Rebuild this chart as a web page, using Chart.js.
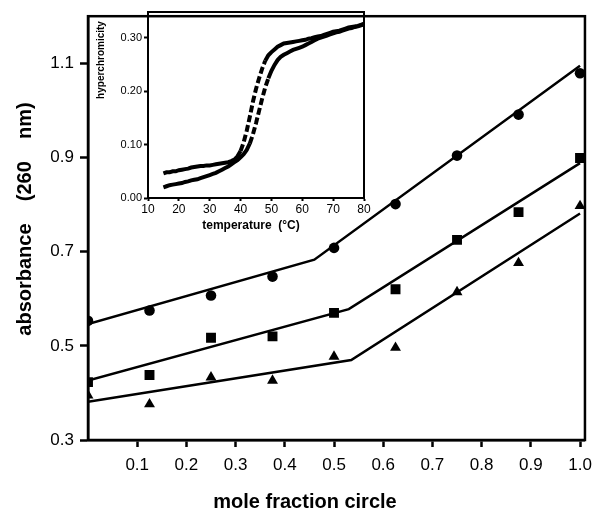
<!DOCTYPE html>
<html>
<head>
<meta charset="utf-8">
<script src="https://cdn.jsdelivr.net/npm/chart.js@4"></script>
<style>
  body { margin: 0; background: #fff; }
  #wrap { position: relative; width: 600px; height: 519px; }
  #mainChart { position: absolute; left: 0; top: 0; }
  #insetChart { position: absolute; left: 90px; top: 0; }
</style>
</head>
<body>
<div id="wrap">
  <canvas id="mainChart" width="600" height="519"></canvas>
  <canvas id="insetChart" width="290" height="240"></canvas>
</div>
<script>
// main plot: absorbance vs mole fraction
const moleFraction = [0, 0.125, 0.25, 0.375, 0.5, 0.625, 0.75, 0.875, 1.0];
const circleAbs   = [0.553, 0.575, 0.607, 0.647, 0.708, 0.801, 0.904, 0.991, 1.079];
const squareAbs   = [0.423, 0.438, 0.517, 0.520, 0.570, 0.620, 0.725, 0.784, 0.899];
const triangleAbs = [0.395, 0.376, 0.433, 0.426, 0.477, 0.496, 0.614, 0.676, 0.797];

// two-segment fit lines: start, break, end
const circleFitX   = [0, 0.46, 1.0];
const circleFitY   = [0.546, 0.683, 1.095];
const squareFitX   = [0, 0.53, 1.0];
const squareFitY   = [0.426, 0.578, 0.888];
const triangleFitX = [0, 0.535, 1.0];
const triangleFitY = [0.381, 0.470, 0.781];

const xTicks = [0.1, 0.2, 0.3, 0.4, 0.5, 0.6, 0.7, 0.8, 0.9, 1.0];
const yTicks = [0.3, 0.5, 0.7, 0.9, 1.1];

// inset: melting curves (hyperchromicity vs temperature)
const temperature = [15, 16, 17, 18, 19, 20, 21, 22, 23, 24, 25, 26, 27, 28, 29, 30, 31, 32, 33, 34,
  35, 36, 37, 38, 39, 40, 41, 42, 43, 44, 45, 46, 47, 48, 49, 50, 51, 52, 53, 54, 55, 56, 57, 58,
  59, 60, 61, 62, 63, 64, 65, 66, 67, 68, 69, 70, 71, 72, 73, 74, 75, 76, 77, 78, 79, 80];
const meltA = [0.046, 0.048, 0.048, 0.050, 0.050, 0.052, 0.053, 0.054, 0.055, 0.057, 0.058, 0.059,
  0.060, 0.060, 0.061, 0.061, 0.062, 0.063, 0.064, 0.065, 0.066, 0.067, 0.069, 0.072, 0.078, 0.088,
  0.104, 0.126, 0.152, 0.180, 0.204, 0.224, 0.242, 0.257, 0.267, 0.273, 0.278, 0.283, 0.286, 0.289,
  0.290, 0.291, 0.292, 0.293, 0.294, 0.295, 0.296, 0.298, 0.299, 0.301, 0.302, 0.303, 0.305, 0.307,
  0.309, 0.311, 0.312, 0.313, 0.315, 0.317, 0.319, 0.320, 0.321, 0.322, 0.324, 0.326];
const meltB = [0.020, 0.022, 0.024, 0.025, 0.026, 0.027, 0.028, 0.030, 0.031, 0.033, 0.034, 0.035,
  0.037, 0.039, 0.041, 0.043, 0.045, 0.047, 0.050, 0.053, 0.056, 0.059, 0.063, 0.067, 0.071, 0.076,
  0.082, 0.090, 0.102, 0.119, 0.140, 0.163, 0.186, 0.207, 0.224, 0.238, 0.249, 0.258, 0.264, 0.268,
  0.271, 0.274, 0.277, 0.279, 0.281, 0.283, 0.286, 0.289, 0.292, 0.295, 0.298, 0.300, 0.302, 0.304,
  0.306, 0.308, 0.310, 0.311, 0.313, 0.315, 0.317, 0.318, 0.320, 0.321, 0.323, 0.325];

const insetXTicks = [10, 20, 30, 40, 50, 60, 70, 80];
const insetYTicks = [0, 0.1, 0.2, 0.3];

const FONT = '"Liberation Sans", Arial, Helvetica, sans-serif';

const toPoints = (xs, ys) => xs.map((x, i) => ({ x: x, y: ys[i] }));

// draws the box round the plot area and the axis titles
const frameBox = {
  id: 'frameBox',
  afterDraw(chart, args, opts) {
    const { ctx, chartArea: a } = chart;
    ctx.save();
    ctx.strokeStyle = '#000';
    ctx.lineWidth = opts.lineWidth;
    ctx.strokeRect(a.left, a.top, a.right - a.left, a.bottom - a.top);
    ctx.fillStyle = '#000';
    ctx.textAlign = 'center';
    ctx.textBaseline = 'middle';
    ctx.font = opts.xFont;
    ctx.fillText(opts.xTitle, opts.xTitleX, opts.xTitleY);
    ctx.translate(opts.yTitleX, opts.yTitleY);
    ctx.rotate(-Math.PI / 2);
    ctx.font = opts.yFont;
    ctx.fillText(opts.yTitle, 0, 0);
    ctx.restore();
  }
};

const markerSet = (data, style, radius) => ({
  data: data,
  pointStyle: style,
  pointRadius: radius,
  backgroundColor: '#000',
  borderColor: '#000',
  borderWidth: 0,
  showLine: false,
});

const fitLine = (data) => ({
  data: data,
  showLine: true,
  borderColor: '#000',
  borderWidth: 2.5,
  pointRadius: 0,
  tension: 0,
});

new Chart(document.getElementById('mainChart'), {
  type: 'scatter',
  data: {
    datasets: [
      fitLine(toPoints(circleFitX, circleFitY)),
      fitLine(toPoints(squareFitX, squareFitY)),
      fitLine(toPoints(triangleFitX, triangleFitY)),
      markerSet(toPoints(moleFraction, circleAbs), 'circle', 5.3),
      markerSet(toPoints(moleFraction, squareAbs), 'rect', 7),
      markerSet(toPoints(moleFraction, triangleAbs), 'triangle', 6.3),
    ],
  },
  options: {
    responsive: false,
    animation: false,
    layout: { padding: { top: 12, right: 15, left: 0, bottom: 0 } },
    plugins: {
      legend: { display: false },
      tooltip: { enabled: false },
      frameBox: {
        lineWidth: 2.5,
        xTitle: 'mole fraction circle',
        xFont: 'bold 20px ' + FONT,
        xTitleX: 305,
        xTitleY: 502,
        yTitle: 'absorbance    (260    nm)',
        yFont: 'bold 20px ' + FONT,
        yTitleX: 25,
        yTitleY: 219,
      },
    },
    scales: {
      x: {
        type: 'linear',
        min: 0,
        max: 1.01,
        afterBuildTicks: s => { s.ticks = xTicks.map(v => ({ value: v })); },
        afterFit: s => { s.height = 79; },
        grid: { drawOnChartArea: false, tickLength: 7, tickWidth: 2.5, color: '#000' },
        border: { color: '#000', width: 2.5 },
        ticks: {
          color: '#000',
          font: { family: FONT, size: 17 },
          padding: 8,
          maxRotation: 0,
          autoSkip: false,
          callback: v => v.toFixed(1),
        },
      },
      y: {
        min: 0.3,
        max: 1.2,
        afterBuildTicks: s => { s.ticks = yTicks.map(v => ({ value: v })); },
        afterFit: s => { s.width = 88; },
        grid: { drawOnChartArea: false, tickLength: 8, tickWidth: 2.5, color: '#000' },
        border: { color: '#000', width: 2.5 },
        ticks: {
          color: '#000',
          font: { family: FONT, size: 17 },
          padding: 6,
          callback: v => v.toFixed(1),
        },
      },
    },
  },
  plugins: [frameBox],
});

// inset chart: dense dotted curves, broken into dashes where they climb steeply
const meltCurve = (data) => ({
  data: data,
  showLine: true,
  borderColor: '#000',
  backgroundColor: '#000',
  borderWidth: 4,
  pointRadius: 0,
  tension: 0,
  segment: {
    borderDash: ctx => Math.abs(ctx.p1.y - ctx.p0.y) > 8 ? [7, 3] : undefined,
  },
});

new Chart(document.getElementById('insetChart'), {
  type: 'scatter',
  data: {
    datasets: [
      meltCurve(toPoints(temperature, meltA)),
      meltCurve(toPoints(temperature, meltB)),
    ],
  },
  options: {
    responsive: false,
    animation: false,
    layout: { padding: { top: 12, right: 16, left: 0, bottom: 0 } },
    plugins: {
      legend: { display: false },
      tooltip: { enabled: false },
      frameBox: {
        lineWidth: 2,
        xTitle: 'temperature  (°C)',
        xFont: 'bold 12px ' + FONT,
        xTitleX: 161,
        xTitleY: 226,
        yTitle: 'hyperchromicity',
        yFont: 'bold 10px ' + FONT,
        yTitleX: 11,
        yTitleY: 60,
      },
    },
    scales: {
      x: {
        type: 'linear',
        min: 10,
        max: 80,
        afterBuildTicks: s => { s.ticks = insetXTicks.map(v => ({ value: v })); },
        afterFit: s => { s.height = 42; },
        grid: { drawOnChartArea: false, tickLength: 3, tickWidth: 2, color: '#000' },
        border: { color: '#000', width: 2 },
        ticks: {
          color: '#000',
          font: { family: FONT, size: 12 },
          padding: 1,
          maxRotation: 0,
          autoSkip: false,
        },
      },
      y: {
        min: 0,
        max: 0.348,
        afterBuildTicks: s => { s.ticks = insetYTicks.map(v => ({ value: v })); },
        afterFit: s => { s.width = 58; },
        grid: { drawOnChartArea: false, tickLength: 4, tickWidth: 2, color: '#000' },
        border: { color: '#000', width: 2 },
        ticks: {
          color: '#000',
          font: { family: FONT, size: 11 },
          padding: 2,
          callback: v => v.toFixed(2),
        },
      },
    },
  },
  plugins: [frameBox],
});
</script>
</body>
</html>
